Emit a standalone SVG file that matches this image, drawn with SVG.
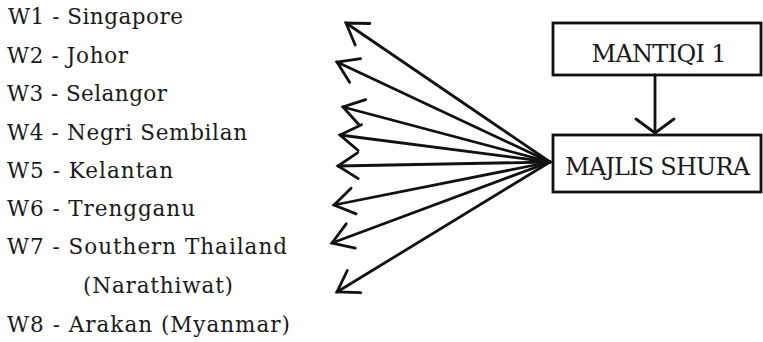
<svg xmlns="http://www.w3.org/2000/svg" width="763" height="342" viewBox="0 0 763 342">
<style>
.t{font-family:"DejaVu Serif","Liberation Serif",serif;font-size:21.5px;fill:#1a1a1a}
.b{font-family:"DejaVu Serif","Liberation Serif",serif;font-size:24px;fill:#1a1a1a;text-anchor:middle}
.box{fill:#fff;stroke:#111;stroke-width:2.8}
.c{stroke:#111;stroke-width:2.8;fill:none;stroke-linecap:round}
</style>
<defs>
<marker id="ah" markerUnits="userSpaceOnUse" viewBox="-25 -20 30 40" refX="0" refY="0" markerWidth="30" markerHeight="40" orient="auto">
<path d="M-20,-13 L0,0 L-20,13" fill="none" stroke="#111" stroke-width="2.8" stroke-linecap="round" stroke-linejoin="miter"/>
</marker>
<marker id="ah2" markerUnits="userSpaceOnUse" viewBox="-20 -25 25 50" refX="0" refY="0" markerWidth="25" markerHeight="50" orient="auto">
<path d="M-14,-19 L0,0 L-14,19" fill="none" stroke="#111" stroke-width="2.8" stroke-linecap="round"/>
</marker>
</defs>
<g id="list">
<text class="t" x="8" y="24" textLength="175" lengthAdjust="spacing">W1 - Singapore</text>
<text class="t" x="7" y="62.5" textLength="121" lengthAdjust="spacing">W2 - Johor</text>
<text class="t" x="7" y="101" textLength="160" lengthAdjust="spacing">W3 - Selangor</text>
<text class="t" x="7" y="139.5" textLength="240" lengthAdjust="spacing">W4 - Negri Sembilan</text>
<text class="t" x="7" y="178" textLength="166" lengthAdjust="spacing">W5 - Kelantan</text>
<text class="t" x="7" y="216" textLength="188" lengthAdjust="spacing">W6 - Trengganu</text>
<text class="t" x="7" y="254" textLength="280" lengthAdjust="spacing">W7 - Southern Thailand</text>
<text class="t" x="83" y="293" textLength="150" lengthAdjust="spacing">(Narathiwat)</text>
<text class="t" x="7" y="332" textLength="283" lengthAdjust="spacing">W8 - Arakan (Myanmar)</text>
</g>
<g id="mantiqi">
<rect class="box" x="553" y="23" width="208" height="52"/>
<text class="b" x="659" y="62" textLength="135" lengthAdjust="spacing">MANTIQI 1</text>
</g>
<g id="majlis">
<rect class="box" x="553" y="135" width="208" height="57"/>
<text class="b" x="657.5" y="175" textLength="185" lengthAdjust="spacing">MAJLIS SHURA</text>
</g>
<g id="connectors">
<line class="c" x1="655" y1="75" x2="655" y2="133" marker-end="url(#ah2)"/>
<line class="c" x1="550" y1="162" x2="346" y2="23" marker-end="url(#ah)"/>
<line class="c" x1="550" y1="162" x2="337" y2="62" marker-end="url(#ah)"/>
<line class="c" x1="550" y1="162" x2="343" y2="107" marker-end="url(#ah)"/>
<line class="c" x1="550" y1="162" x2="340" y2="135" marker-end="url(#ah)"/>
<line class="c" x1="550" y1="162" x2="338" y2="166" marker-end="url(#ah)"/>
<line class="c" x1="550" y1="162" x2="334" y2="205" marker-end="url(#ah)"/>
<line class="c" x1="550" y1="162" x2="332" y2="243" marker-end="url(#ah)"/>
<line class="c" x1="550" y1="162" x2="337" y2="292" marker-end="url(#ah)"/>
</g>
</svg>
